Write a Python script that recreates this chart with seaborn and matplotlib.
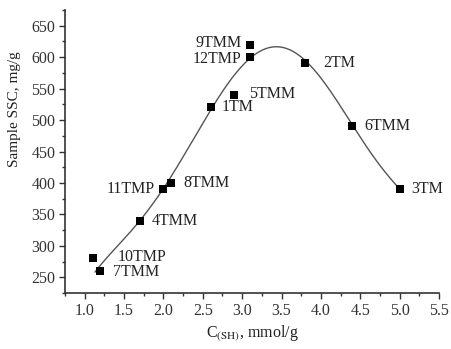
import numpy as np
import pandas as pd
import matplotlib
matplotlib.use("Agg")
import matplotlib.pyplot as plt
import seaborn as sns
from matplotlib.ticker import MultipleLocator

# data
samples = ["10TMP", "7TMM", "4TMM", "11TMP", "8TMM", "1TM", "5TMM", "9TMM", "12TMP", "2TM", "6TMM", "3TM"]
c_sh = [1.1, 1.2, 1.7, 2.0, 2.1, 2.6, 2.9, 3.1, 3.1, 3.8, 4.4, 5.0]
ssc = [280, 260, 340, 390, 400, 520, 540, 620, 600, 590, 490, 390]

# fitted curve
curve_x = [1.13, 1.4, 1.7, 2.0, 2.3, 2.6, 2.9, 3.1, 3.3, 3.48, 3.7, 3.9, 4.1, 4.4, 4.7, 5.0]
curve_y = [258, 298, 340, 390, 452, 519, 570, 598, 612, 615, 607, 585, 548, 490, 438, 390]

# label offsets in points (dx, dy, ha)
label_pos = {
    "10TMP": (18, 1, "left"), "7TMM": (9, -1, "left"), "4TMM": (8.5, 0, "left"),
    "11TMP": (-6.5, 0, "right"), "8TMM": (8.5, 0, "left"), "1TM": (8, 0, "left"),
    "5TMM": (11, 1, "left"), "9TMM": (-6, 1, "right"), "12TMP": (-6, -1, "right"),
    "2TM": (13, 0, "left"), "6TMM": (8.5, 0, "left"), "3TM": (8.5, 0, "left"),
}

sns.set_style("ticks")
plt.rcParams["font.family"] = ["Liberation Serif", "DejaVu Serif"]
plt.rcParams["mathtext.fontset"] = "stix"

fig = plt.figure(figsize=(4.52, 3.49), dpi=100)
ax = fig.add_axes([65 / 452, 1 - 293 / 349, (439 - 65) / 452, (293 - 10) / 349])

# smooth curve through read points
coef = np.polyfit(curve_x, curve_y, 7)
xs = np.linspace(min(curve_x), max(curve_x), 300)
smooth = pd.DataFrame({"x": xs, "y": np.polyval(coef, xs)})
sns.lineplot(data=smooth, x="x", y="y", ax=ax, color="#555555", lw=1.0)

df = pd.DataFrame({"x": c_sh, "y": ssc, "s": samples})
sns.scatterplot(data=df, x="x", y="y", ax=ax, marker="s", s=36, color="black",
                edgecolor="black", linewidth=0, zorder=3)

for s, x, y in zip(samples, c_sh, ssc):
    dx, dy, ha = label_pos[s]
    ax.annotate(s, (x, y), xytext=(dx, dy), textcoords="offset points",
                ha=ha, va="center", fontsize=11.5, color="#222222")

ax.set_xlim(0.75, 5.5)
ax.set_ylim(225, 675)
ax.xaxis.set_minor_locator(MultipleLocator(0.25))
ax.yaxis.set_minor_locator(MultipleLocator(25))
ax.set_xticks(np.arange(1.0, 5.51, 0.5))
ax.set_xticklabels([f"{v:.1f}" for v in np.arange(1.0, 5.51, 0.5)])
ax.set_yticks(np.arange(250, 651, 50))
ax.tick_params(axis="both", which="major", length=4, width=1, labelsize=11.5, colors="#333333", pad=3)
ax.tick_params(axis="both", which="minor", length=2.5, width=1, colors="#333333")
for sp in ["left", "bottom"]:
    ax.spines[sp].set_color("#333333")
    ax.spines[sp].set_linewidth(1.2)
sns.despine(ax=ax)

ax.set_xlabel(r"C$_{\rm (SH)}$, mmol/g", fontsize=11.5, color="#222222", labelpad=3)
ax.set_ylabel("Sample SSC, mg/g", fontsize=11, color="#222222", labelpad=4)
ax.yaxis.set_label_coords(-0.117, 0.65)

fig.savefig("out.png", dpi=100)
